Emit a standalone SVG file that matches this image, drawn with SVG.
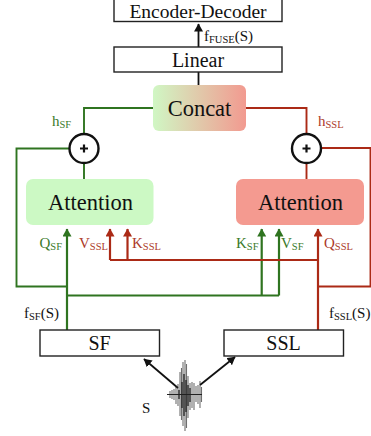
<svg xmlns="http://www.w3.org/2000/svg" width="371" height="436" viewBox="0 0 371 436">
<style>
text{font-family:"Liberation Serif",serif;fill:#111}
.c{text-anchor:middle}
.big{font-size:22.500px}
.m{font-size:20px}
.e{font-size:19.500px}
.l{font-size:15px}
.s{font-size:10.500px}
.g{fill:#3a7a2a}.r{fill:#ad3a2a}
.box{fill:#fff;stroke:#222;stroke-width:1.400}
.gl{fill:none;stroke:#2f7420;stroke-width:1.900}
.gt{fill:none;stroke:#2f7420;stroke-width:2.200}
.rl{fill:none;stroke:#ab2a16;stroke-width:1.900}
.rt{fill:none;stroke:#ab2a16;stroke-width:2.200}
.bl{fill:none;stroke:#111;stroke-width:1.800}
.ci{fill:#fff;stroke:#111;stroke-width:2.400}
</style>
<defs>
<linearGradient id="cg"><stop offset="0" stop-color="#d0f7c4"/><stop offset="1" stop-color="#f29a90"/></linearGradient>
<marker id="ag" markerUnits="userSpaceOnUse" markerWidth="10" markerHeight="10" refX="7.500" refY="4.500" orient="auto"><path d="M0 0L8 4.500L0 9Z" fill="#2f7420"/></marker>
<marker id="ar" markerUnits="userSpaceOnUse" markerWidth="10" markerHeight="10" refX="7.500" refY="4.500" orient="auto"><path d="M0 0L8 4.500L0 9Z" fill="#ab2a16"/></marker>
<marker id="ab" markerUnits="userSpaceOnUse" markerWidth="10" markerHeight="10" refX="7.500" refY="4.500" orient="auto"><path d="M0 0L8 4.500L0 9Z" fill="#111"/></marker>
</defs>
<g id="connectors">
<path class="bl" d="M198.500 47V24" marker-end="url(#ab)"/>
<path class="bl" d="M198.500 85V72"/>
<path class="gl" d="M153 108H84V134"/>
<path class="gl" d="M84 162V179"/>
<path class="gl" d="M70 148.500H16.500V286.500H67"/>
<path class="gt" d="M67 330V229" marker-end="url(#ag)"/>
<path class="gl" d="M67 295.500H279"/>
<path class="gt" d="M261.700 295.500V229" marker-end="url(#ag)"/>
<path class="gt" d="M279 295.500V229" marker-end="url(#ag)"/>
<path class="rl" d="M246 108H306.500V134"/>
<path class="rl" d="M306.500 162V179"/>
<path class="rl" d="M321 148H370.500V286.500H318"/>
<path class="rt" d="M318 330V229" marker-end="url(#ar)"/>
<path class="rl" d="M318 260H110"/>
<path class="rt" d="M110 260V229" marker-end="url(#ar)"/>
<path class="rt" d="M127.500 260V229" marker-end="url(#ar)"/>
<path class="bl" d="M178 388L144 359" marker-end="url(#ab)"/>
<path class="bl" d="M200 385L235 357" marker-end="url(#ab)"/>
</g>
<g id="encoder-decoder"><rect class="box" x="114" y="-5" width="168" height="26.500"/><text class="c e" x="198" y="17.500">Encoder-Decoder</text></g>
<g id="linear"><rect class="box" x="114" y="47" width="168" height="25"/><text class="c m" x="198" y="67">Linear</text></g>
<g id="concat"><rect x="153" y="85" width="93" height="46" rx="6" fill="url(#cg)"/><text class="c big" x="199.500" y="115.500">Concat</text></g>
<g id="plus-sf"><circle class="ci" cx="84" cy="148.500" r="14.500"/><path d="M80 148.500H88M84 144.500V152.500" stroke="#111" stroke-width="2.200"/></g>
<g id="plus-ssl"><circle class="ci" cx="306.500" cy="148.500" r="14.500"/><path d="M302.500 148.500H310.500M306.500 144.500V152.500" stroke="#111" stroke-width="2.200"/></g>
<g id="attention-sf"><rect x="26" y="179" width="127.500" height="46" rx="7" fill="#ccf9c4"/><text class="c big" x="90.500" y="209.500">Attention</text></g>
<g id="attention-ssl"><rect x="236" y="179" width="128" height="46" rx="7" fill="#f49a90"/><text class="c big" x="300.500" y="209.500">Attention</text></g>
<g id="sf"><rect class="box" x="40" y="330" width="119.500" height="26"/><text class="c m" x="99.500" y="350">SF</text></g>
<g id="ssl"><rect class="box" x="224" y="330" width="119.500" height="26"/><text class="c m" x="283.500" y="350">SSL</text></g>
<g id="signal" stroke="#222" fill="none">
<path stroke-width="1.200" d="M167 394.500H202"/>
<path stroke-width="1.100" opacity=".65" d="M170 391V398M172 390V399M174 389V400M176 386V404M178 384V406M180 372V416M181.500 368V420M183 362V426M185 360V431M186.500 364V428M188 376V418M190 383V410M192 382V408M194 383V410M196 386V402M198 385V404M200 381V408M201.500 387V402"/>
<path stroke-width="1.300" d="M182 382V408M184 374V416M186 380V412M188 385V406M190 388V402M179 390V399"/>
</g>
<g id="labels">
<text class="l" x="204" y="41">f<tspan class="s" dy="1.500">FUSE</tspan><tspan dy="-1.500">(S)</tspan></text>
<text class="l g" x="52" y="126">h<tspan class="s" dy="1.500" style="fill:#3a7a2a">SF</tspan></text>
<text class="l r" x="318" y="126">h<tspan class="s" dy="1.500" style="fill:#ad3a2a">SSL</tspan></text>
<text class="l g" x="39.500" y="248">Q<tspan class="s" dy="1.500" style="fill:#3a7a2a">SF</tspan></text>
<text class="l r" x="79" y="248">V<tspan class="s" dy="1.500" style="fill:#ad3a2a">SSL</tspan></text>
<text class="l r" x="132" y="248">K<tspan class="s" dy="1.500" style="fill:#ad3a2a">SSL</tspan></text>
<text class="l g" x="236" y="248">K<tspan class="s" dy="1.500" style="fill:#3a7a2a">SF</tspan></text>
<text class="l g" x="281" y="248">V<tspan class="s" dy="1.500" style="fill:#3a7a2a">SF</tspan></text>
<text class="l r" x="324" y="248">Q<tspan class="s" dy="1.500" style="fill:#ad3a2a">SSL</tspan></text>
<text class="l" x="24" y="318">f<tspan class="s" dy="1.500">SF</tspan><tspan dy="-1.500">(S)</tspan></text>
<text class="l" x="329" y="318">f<tspan class="s" dy="1.500">SSL</tspan><tspan dy="-1.500">(S)</tspan></text>
<text class="l" x="142" y="413">S</text>
</g>
</svg>
